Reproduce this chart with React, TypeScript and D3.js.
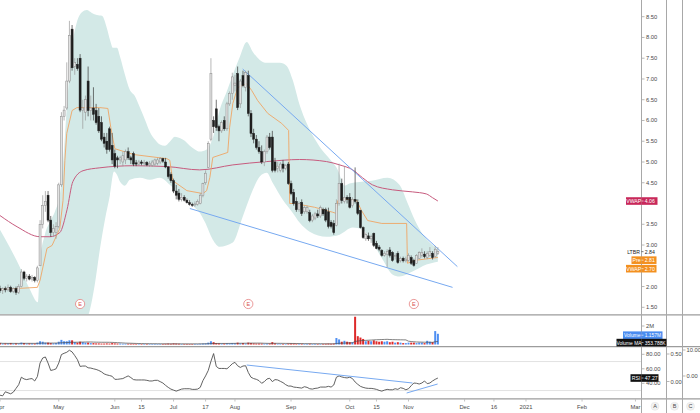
import React from "react";
import * as d3 from "d3";

// ---------------- DATA ----------------
const opens = [1.95,1.90,1.95,1.92,1.98,1.88,1.95,1.86,2.00,2.35,2.20,2.25,2.18,2.22,2.15,2.50,3.50,3.95,4.20,3.60,3.30,3.30,3.45,4.45,6.10,6.30,6.95,8.20,7.30,7.35,7.50,6.25,6.20,6.95,6.24,6.30,6.24,6.10,5.95,5.60,5.50,5.80,5.40,5.20,5.10,5.05,5.00,5.05,5.25,5.10,5.20,4.98,4.95,5.00,4.97,4.99,4.93,4.92,4.95,4.97,5.00,5.08,5.00,4.88,4.70,4.55,4.30,4.25,4.10,4.15,4.08,4.02,3.98,3.97,3.98,4.00,4.20,4.50,4.87,5.55,6.00,6.28,5.85,5.75,6.00,5.80,6.40,6.65,6.85,7.13,6.40,7.08,6.80,7.08,6.17,5.69,5.55,5.35,5.25,5.00,5.25,5.60,5.60,5.00,4.85,4.80,4.95,4.85,4.95,4.48,4.27,4.05,3.85,4.03,3.80,3.80,3.78,3.60,3.65,3.75,3.70,3.85,3.85,3.80,3.55,3.52,3.47,4.00,4.48,4.05,4.15,4.15,3.95,4.10,4.03,3.83,3.42,3.15,3.22,3.15,3.28,3.04,2.95,2.87,2.75,2.78,2.88,2.82,2.72,2.80,2.62,2.68,2.62,2.63,2.70,2.63,2.56,2.68,2.75,2.78,2.70,2.75,2.80,2.72,2.80];
const highs = [2.02,1.98,2.00,2.05,2.02,1.98,2.00,2.06,2.42,2.38,2.30,2.30,2.28,2.25,2.50,3.60,4.20,4.30,4.30,3.70,3.50,3.55,4.50,6.20,6.35,7.40,8.40,8.30,7.50,7.50,7.60,6.50,6.60,7.30,6.60,6.80,6.40,6.30,6.10,5.70,5.70,5.85,5.70,5.30,5.15,5.15,5.25,5.30,5.35,5.15,5.25,5.05,5.05,5.05,5.05,5.02,5.02,5.05,5.08,5.10,5.12,5.10,5.10,4.90,4.75,4.60,4.45,4.35,4.25,4.20,4.12,4.08,4.02,4.05,4.10,4.25,4.50,4.80,5.50,7.50,6.10,6.50,5.90,6.00,6.10,6.45,6.70,7.15,7.10,7.30,7.00,7.20,7.20,7.20,6.25,5.80,5.65,5.50,5.40,5.30,5.65,5.70,5.75,5.10,5.00,5.00,5.05,4.95,5.00,4.55,4.35,4.15,4.05,4.10,3.95,3.95,3.85,3.75,3.80,3.85,3.95,3.90,3.90,3.90,3.60,3.60,4.10,4.96,4.60,4.90,4.20,4.25,4.15,4.87,4.10,3.85,3.45,3.30,3.30,3.25,3.30,3.10,3.00,2.90,2.85,2.90,2.95,2.85,2.80,2.85,2.72,2.72,2.72,2.80,2.75,2.67,2.78,2.85,2.92,2.85,2.85,2.95,2.85,2.98,2.95];
const lows = [1.85,1.82,1.86,1.88,1.85,1.84,1.80,1.82,1.98,2.15,2.12,2.15,2.12,2.10,2.10,2.50,3.40,3.80,3.55,3.20,3.20,3.15,3.40,4.40,6.00,6.25,6.90,7.20,7.10,7.20,6.20,5.80,6.00,6.10,6.00,6.00,5.90,5.70,5.50,5.35,5.20,5.25,4.95,4.85,4.85,4.95,4.90,4.95,5.05,4.95,4.90,4.90,4.92,4.92,4.90,4.90,4.88,4.88,4.90,4.92,4.95,4.98,4.85,4.60,4.50,4.25,4.10,4.05,4.05,4.05,4.00,3.95,3.92,3.92,3.95,3.98,4.15,4.45,4.85,5.50,5.70,5.75,5.50,5.70,5.75,5.75,6.35,6.50,6.70,6.25,6.30,6.80,6.70,6.10,5.60,5.45,5.30,5.20,4.95,4.90,5.20,5.30,4.75,4.75,4.75,4.75,4.75,4.80,4.45,4.20,3.95,3.80,3.80,3.70,3.75,3.75,3.55,3.55,3.60,3.65,3.65,3.70,3.55,3.40,3.40,3.25,3.45,3.95,4.00,4.00,4.00,3.88,3.90,4.00,3.72,3.40,3.15,3.10,3.10,3.05,2.95,2.90,2.85,2.72,2.72,2.46,2.70,2.60,2.65,2.55,2.58,2.58,2.58,2.60,2.52,2.48,2.55,2.66,2.70,2.68,2.66,2.72,2.65,2.70,2.76];
const closes = [1.90,1.95,1.92,1.98,1.88,1.95,1.86,2.00,2.35,2.20,2.25,2.18,2.22,2.15,2.45,3.50,3.95,4.05,3.60,3.30,3.40,3.45,4.45,6.10,6.25,6.95,8.05,7.27,7.40,7.25,6.25,6.30,6.50,6.24,6.30,6.15,5.95,5.75,5.55,5.45,5.30,5.30,5.05,4.90,5.05,5.10,5.15,5.25,5.10,5.05,4.95,4.95,5.00,4.97,4.99,4.93,4.96,5.00,5.05,5.05,5.08,5.02,4.88,4.65,4.55,4.30,4.20,4.10,4.15,4.08,4.02,3.98,3.97,3.99,4.05,4.20,4.48,4.73,5.45,7.13,5.85,5.83,5.75,5.95,5.80,6.40,6.65,7.05,6.90,6.31,6.95,6.84,7.15,6.17,5.69,5.55,5.35,5.25,5.00,5.25,5.60,5.35,4.80,4.80,4.90,4.95,4.85,4.92,4.48,4.24,4.00,3.85,4.00,3.76,3.90,3.90,3.59,3.70,3.75,3.70,3.90,3.75,3.60,3.45,3.45,3.30,4.00,4.48,4.07,4.15,4.10,3.91,4.10,4.05,3.76,3.42,3.18,3.25,3.15,3.20,2.99,2.92,2.90,2.75,2.80,2.85,2.75,2.63,2.75,2.58,2.68,2.62,2.66,2.75,2.56,2.51,2.75,2.82,2.82,2.72,2.80,2.84,2.70,2.90,2.84];
// volume in millions of shares
const volumes = [0.15,0.1,0.12,0.1,0.15,0.1,0.12,0.1,0.2,0.15,0.1,0.12,0.1,0.1,0.2,0.35,0.3,0.2,0.2,0.15,0.12,0.15,0.3,0.5,0.35,0.35,0.45,0.45,0.25,0.2,0.3,0.25,0.2,0.2,0.15,0.15,0.12,0.12,0.1,0.1,0.12,0.1,0.15,0.12,0.1,0.1,0.08,0.08,0.08,0.08,0.08,0.06,0.06,0.06,0.06,0.06,0.06,0.06,0.06,0.06,0.06,0.06,0.08,0.1,0.08,0.12,0.1,0.08,0.06,0.06,0.06,0.06,0.06,0.06,0.06,0.08,0.1,0.12,0.2,0.35,0.25,0.15,0.12,0.1,0.1,0.12,0.12,0.15,0.12,0.2,0.12,0.15,0.1,0.2,0.15,0.12,0.1,0.1,0.1,0.08,0.08,0.1,0.25,0.12,0.08,0.08,0.06,0.06,0.1,0.1,0.1,0.08,0.06,0.08,0.06,0.06,0.08,0.06,0.06,0.06,0.06,0.06,0.08,0.1,0.08,0.1,0.7,0.55,0.3,0.4,0.3,0.25,0.25,3.0,0.9,0.75,0.6,0.35,0.4,0.35,0.45,0.35,0.3,0.35,0.3,0.35,0.25,0.3,0.2,0.25,0.2,0.15,0.15,0.2,0.2,0.2,0.15,0.2,0.2,0.15,0.4,0.3,0.25,1.45,1.157];
const rsiValues = [23.6,22.7,28.3,26.9,25.5,27.8,33.0,38.1,48.4,46.0,45.1,46.0,46.5,43.2,49.3,67.9,74.9,76.3,67.9,57.7,58.6,60.0,67.9,79.6,81.4,82.8,85.6,83.3,78.2,72.6,63.3,63.8,63.8,61.4,61.0,60.0,59.1,57.7,55.8,53.0,51.6,50.7,49.7,45.5,45.5,46.0,46.5,48.4,50.2,47.9,45.1,44.6,44.6,44.6,44.6,44.1,43.2,43.2,44.1,44.1,42.3,40.4,37.2,34.4,32.0,30.6,29.2,30.6,32.0,32.5,32.5,32.5,31.6,31.6,32.0,34.4,43.7,50.2,57.7,70.3,81.0,63.3,60.5,60.5,60.5,60.0,63.3,67.0,68.9,64.2,61.9,63.8,64.2,54.9,48.4,46.5,45.5,43.7,40.0,42.3,46.0,46.9,42.3,45.1,44.6,42.7,40.9,38.1,36.2,36.2,34.8,34.4,33.9,33.4,35.3,34.4,32.5,32.0,33.0,33.4,34.8,34.8,34.8,35.8,34.8,37.6,48.4,50.2,48.8,47.9,47.4,48.4,46.5,41.8,38.6,35.8,34.4,33.4,33.0,33.0,32.5,31.6,30.2,29.2,30.6,31.6,31.1,31.1,32.5,31.6,33.9,33.0,31.1,32.5,36.7,40.4,40.0,39.0,40.4,43.2,39.5,40.4,43.2,45.5,47.27];

// envelope (shaded channel) read at bar positions
const upperBandIdx = [0,3.7,7.5,11.2,14.2,15,16.8,18.7,20.6,22.4,23.6,25.1,26.9,28.8,30.7,32.5,34.4,36.3,38.2,40,41.2,42.3,43.8,44.9,46.8,48.6,50.5,52.4,54.3,56.1,58,59.9,61.7,63.6,65.5,67.3,69.2,71.1,73,74.8,77.4,79.7,82.3,84.9,87.2,89.8,92.4,94.7,97.3,99.9,104.8,107.4,109.6,112.2,116,119.7,122.7,126.5,129.1,130.9,134.7,139.2,145.2,149.6,152.6,155.3,159,162.7,164];
const upperBandVal = [3.37,2.94,2.46,1.93,1.62,2.60,3.25,3.56,3.81,4.21,4.94,6.38,7.70,8.37,8.61,8.66,8.59,8.54,8.52,8.23,7.94,7.75,7.75,7.55,7.10,6.74,6.59,6.31,6.02,5.73,5.54,5.42,5.39,5.49,5.61,5.58,5.51,5.39,5.30,5.25,5.30,5.58,6.26,6.69,7.10,7.53,7.89,7.65,7.46,7.39,7.39,7.31,6.98,6.38,5.78,5.37,5.13,4.81,4.43,4.48,4.52,4.55,4.62,4.45,4.02,3.61,3.20,2.96,2.89];
const lowerBandIdx = [0,15,31.8,33.7,35.5,37.4,39.3,41.2,42.7,43.8,44.9,46.8,48.6,52.4,56.1,59.9,63.6,67.3,71.1,73,74.8,76.7,79.7,82.3,87.2,90.9,94.7,97.3,99.9,102.1,105.9,109.6,112.2,116,122.3,127.2,132.1,135.8,139.5,143.3,147,149.6,154.5,159.7,164];
const lowerBandVal = [0.97,0.97,1.16,1.45,2.05,2.89,3.61,4.21,4.77,4.69,4.53,4.43,4.57,4.62,4.57,4.62,4.45,4.21,4.05,3.90,3.78,3.56,3.13,2.96,3.06,3.68,4.33,4.65,4.74,4.50,4.09,3.78,3.54,3.32,3.20,3.25,3.42,3.37,3.06,2.65,2.29,2.24,2.36,2.53,2.60];

// VWAP (crimson) and anchored VWAP (orange)
const vwapIdx = [0,6.4,15,18.7,22.4,25.1,27.3,31.1,37.4,49.8,62.5,74.8,87.2,99.9,112.2,122.3,127.2,132.1,135.8,139.5,147,154.5,159.7,162,164];
const vwapVal = [3.71,3.44,3.20,3.20,3.30,3.85,4.53,4.79,4.86,4.91,4.89,4.81,4.93,5.01,5.06,5.01,4.93,4.81,4.62,4.45,4.33,4.28,4.23,4.14,4.06];
const anchoredIdx = [0,14,15,17.6,19.5,22.4,23.6,24.3,25,27,28.8,37.4,40.4,41.5,43,50,62.5,63.6,64.7,70,76,77.4,78.6,79.7,85.3,86,87.2,89,92.4,94.3,96.5,100.3,105.5,108.1,108.5,110.4,117.8,124.6,126,126.5,128,133.6,135.4,137.7,143,152.3,152.6,155.3,164];
const anchoredVal = [1.93,1.98,2.15,2.92,2.99,3.40,4.07,5.04,5.69,6.24,6.31,6.31,6.29,5.83,5.32,5.18,5.08,5.04,4.55,4.31,4.24,4.31,4.63,5.11,5.23,5.83,6.41,6.79,6.89,6.72,6.48,6.17,5.93,5.76,4.00,4.00,3.91,3.79,3.76,4.07,4.12,4.07,3.83,3.59,3.52,3.52,2.56,2.63,2.70];

// drawn trend lines
const priceTrendUpperIdx = [90.9, 171.3];
const priceTrendUpperVal = [7.24, 2.48];
const priceTrendLowerIdx = [71.1, 169.5];
const priceTrendLowerVal = [3.88, 1.98];
const rsiTrendUpperIdx = [92.4, 154.5];
const rsiTrendUpperVal = [65.2, 40.4];
const rsiTrendLowerIdx = [152.3, 163.9];
const rsiTrendLowerVal = [26.6, 39.0];

const priceTicks = [8.5, 8, 7.5, 7, 6.5, 6, 5.5, 5, 4.5, 4, 3.5, 3, 2.5, 2, 1.5];
const rsiTicks = [80, 60, 40];
const bScaleTicks = [0.5, 0];
const cScaleTicks = [10, 0];
const timeTickDates = ["2020-04-01","2020-05-01","2020-06-01","2020-06-15","2020-07-01","2020-07-17","2020-08-03","2020-09-01","2020-10-01","2020-10-15","2020-11-02","2020-12-01","2020-12-16","2021-01-01","2021-02-01","2021-03-01"];
const timeTickLabels = ["Apr","May","Jun","15","Jul","17","Aug","Sep","Oct","15","Nov","Dec","16","2021","Feb","Mar"];
const earningsDates = ["2020-05-13", "2020-08-10", "2020-11-04"];

const lastClose = 2.84;
const preValue = 2.81;
const anchoredLast = 2.7;
const vwapLast = 4.06;
const volumeLastLabel = "1.157M";
const volumeMALabel = "353.788K";
const rsiLast = 47.27;

// ---------------- LAYOUT ----------------
const W = 700;
const H = 413;
const AX = 641.5;
const FONT = "'Liberation Sans', Arial, sans-serif";
const TXT = "#4a4a4a";

const START = Date.UTC(2020, 3, 1);
function dateIndex(s: string): number {
  const end = Date.parse(s + "T00:00:00Z");
  let n = 0;
  for (let t = START; t < end; t += 86400000) {
    const wd = new Date(t).getUTCDay();
    if (wd !== 0 && wd !== 6) n++;
  }
  return n;
}

const x = d3.scaleLinear().domain([0, 240]).range([0, 640.8]);
const y = d3.scaleLinear().domain([1.5, 8.5]).range([307.3, 16.7]);
const yVol = d3.scaleLinear().domain([0, 2]).range([344.5, 326]);
const yRsi = d3.scaleLinear().domain([40, 80]).range([383.3, 354.3]);
const yB = d3.scaleLinear().domain([0, 0.5]).range([381.5, 354]);
const yC = d3.scaleLinear().domain([0, 10]).range([376, 350]);

function Tag({ yc, name, value, color, nameW, valW, fs = 5.2, textColor = "#fff" }: any) {
  const h = 7.6;
  return (
    <g>
      <rect x={AX - nameW} y={yc - h / 2} width={nameW} height={h} fill={color} />
      <rect x={AX} y={yc - h / 2} width={valW} height={h} fill={color} />
      <text x={AX - nameW / 2} y={yc + 1.9} fontSize={fs} fill={textColor} textAnchor="middle" fontFamily={FONT}>{name}</text>
      <line x1={AX} x2={AX + 2} y1={yc} y2={yc} stroke={textColor} strokeWidth={0.6} />
      <text x={AX + 3.2} y={yc + 1.9} fontSize={fs} fill={textColor} fontFamily={FONT}>{value}</text>
    </g>
  );
}

export default function App() {
  const n = closes.length;
  const idx = d3.range(n);
  const barW = 2;

  const curve = d3.curveMonotoneX;
  const upperLine = d3.line<number>().x((_, k) => x(upperBandIdx[k])).y((v) => y(v)).curve(curve);
  const lowerLineRev = d3.line<number>().x((_, k) => x(lowerBandIdx[lowerBandIdx.length - 1 - k])).y((v) => y(v)).curve(curve);
  const bandPath = (upperLine(upperBandVal) || "") + (lowerLineRev([...lowerBandVal].reverse()) || "").replace(/^M/, "L") + "Z";

  const lineIdx = (ix: number[], vals: number[], sy: any, c: any = d3.curveLinear) =>
    d3.line<number>().x((_, k) => x(ix[k])).y((v) => sy(v)).curve(c)(vals) || "";

  const volMA = idx.map((i) => d3.mean(volumes.slice(Math.max(0, i - 19), i + 1)) as number);
  const rsiLine = d3.line<number>().x((_, i) => x(i)).y((v) => yRsi(v))(rsiValues) || "";
  const volMALine = d3.line<number>().x((_, i) => x(i)).y((v) => yVol(v))(volMA) || "";

  const ltbrY = y(lastClose);
  const tagYs = [y(vwapLast), ltbrY, ltbrY + 8.5, ltbrY + 17];
  const visiblePriceTicks = priceTicks.filter((p) => tagYs.every((ty) => Math.abs(ty - y(p)) > 5.5));

  return (
    <svg width={W} height={H} style={{ position: "absolute", left: 0, top: 0, background: "#fff" }} fontFamily={FONT}>
      <defs>
        <clipPath id="mainClip"><rect x={0} y={0} width={AX} height={314} /></clipPath>
        <clipPath id="volClip"><rect x={0} y={315.5} width={AX} height={30} /></clipPath>
        <clipPath id="rsiClip"><rect x={0} y={347.5} width={AX} height={50.5} /></clipPath>
      </defs>
      <rect x={0} y={0} width={W} height={H} fill="#fff" />

      {/* MAIN PANE */}
      <g clipPath="url(#mainClip)">
        <path d={bandPath} fill="#d3e9e7" />
        <path d={lineIdx(vwapIdx, vwapVal, y, d3.curveMonotoneX)} fill="none" stroke="#c75b7e" strokeWidth={1} />
        <path d={lineIdx(anchoredIdx, anchoredVal, y)} fill="none" stroke="#efa564" strokeWidth={0.9} />
        <path d={lineIdx(priceTrendUpperIdx, priceTrendUpperVal, y)} fill="none" stroke="#77a9f0" strokeWidth={1} />
        <path d={lineIdx(priceTrendLowerIdx, priceTrendLowerVal, y)} fill="none" stroke="#77a9f0" strokeWidth={1} />
        {idx.map((i) => {
          const up = closes[i] >= opens[i];
          const top = y(Math.max(opens[i], closes[i]));
          const bot = y(Math.min(opens[i], closes[i]));
          return (
            <g key={i}>
              <line x1={x(i)} x2={x(i)} y1={y(highs[i])} y2={y(lows[i])} stroke={up ? "#9a9a9a" : "#3a3a3a"} strokeWidth={0.7} />
              <rect x={x(i) - barW / 2} y={top} width={barW} height={Math.max(1, bot - top)} fill={up ? "#e2e2e2" : "#1e1e1e"} stroke={up ? "#8a8a8a" : "#1e1e1e"} strokeWidth={0.5} />
            </g>
          );
        })}
        {earningsDates.map((d) => {
          const cx = x(dateIndex(d));
          return (
            <g key={d}>
              <circle cx={cx} cy={304} r={4.6} fill="#fff" stroke="#e58080" strokeWidth={0.8} />
              <text x={cx} y={306} fontSize={5.5} fill="#d9534f" textAnchor="middle">E</text>
            </g>
          );
        })}
      </g>

      {/* VOLUME PANE */}
      <g clipPath="url(#volClip)">
        {idx.map((i) => (
          <rect key={i} x={x(i) - 1} y={yVol(volumes[i])} width={2} height={yVol(0) - yVol(volumes[i])}
            fill={closes[i] >= opens[i] ? "#4f8ff2" : "#dd2a2a"} />
        ))}
        <path d={volMALine} fill="none" stroke="#4a4a4a" strokeWidth={0.7} />
      </g>

      {/* RSI PANE */}
      <line x1={0} x2={AX} y1={yRsi(70)} y2={yRsi(70)} stroke="#e2e2e2" strokeWidth={1} />
      <line x1={0} x2={AX} y1={yRsi(30)} y2={yRsi(30)} stroke="#e2e2e2" strokeWidth={1} />
      <g clipPath="url(#rsiClip)">
        <path d={rsiLine} fill="none" stroke="#505050" strokeWidth={0.9} />
        <path d={lineIdx(rsiTrendUpperIdx, rsiTrendUpperVal, yRsi)} fill="none" stroke="#77a9f0" strokeWidth={1} />
        <path d={lineIdx(rsiTrendLowerIdx, rsiTrendLowerVal, yRsi)} fill="none" stroke="#77a9f0" strokeWidth={1} />
      </g>

      {/* separators & axis lines */}
      <line x1={0} x2={W} y1={314.8} y2={314.8} stroke="#9c9c9c" strokeWidth={1.2} />
      <line x1={0} x2={W} y1={346.6} y2={346.6} stroke="#9c9c9c" strokeWidth={1.2} />
      <line x1={0} x2={W} y1={398.8} y2={398.8} stroke="#9c9c9c" strokeWidth={1.2} />
      <line x1={AX} x2={AX} y1={0} y2={H} stroke="#a8a8a8" strokeWidth={1} />
      <line x1={666.5} x2={666.5} y1={0} y2={H} stroke="#a8a8a8" strokeWidth={1} />
      <line x1={682.5} x2={682.5} y1={0} y2={H} stroke="#a8a8a8" strokeWidth={1} />

      {/* price axis */}
      {visiblePriceTicks.map((p) => (
        <g key={p}>
          <line x1={AX + 0.5} x2={AX + 3} y1={y(p)} y2={y(p)} stroke="#888" strokeWidth={0.6} />
          <text x={AX + 4.5} y={y(p) + 2} fontSize={5.8} fill={TXT}>{p.toFixed(2)}</text>
        </g>
      ))}
      {/* volume axis */}
      <line x1={AX + 0.5} x2={AX + 3} y1={yVol(2)} y2={yVol(2)} stroke="#888" strokeWidth={0.6} />
      <text x={AX + 4.5} y={yVol(2) + 2} fontSize={5.8} fill={TXT}>2M</text>
      {/* RSI axis */}
      {rsiTicks.map((r) => (
        <g key={r}>
          <line x1={AX + 0.5} x2={AX + 3} y1={yRsi(r)} y2={yRsi(r)} stroke="#888" strokeWidth={0.6} />
          <text x={AX + 4.5} y={yRsi(r) + 2} fontSize={5.8} fill={TXT}>{r.toFixed(2)}</text>
        </g>
      ))}
      {bScaleTicks.map((b) => (
        <g key={"b" + b}>
          <line x1={667} x2={669.5} y1={yB(b)} y2={yB(b)} stroke="#888" strokeWidth={0.6} />
          <text x={670.5} y={yB(b) + 2} fontSize={5.8} fill={TXT}>{b.toFixed(2)}</text>
        </g>
      ))}
      {cScaleTicks.map((c) => (
        <g key={"c" + c}>
          <line x1={683} x2={685.5} y1={yC(c)} y2={yC(c)} stroke="#888" strokeWidth={0.6} />
          <text x={686.5} y={yC(c) + 2} fontSize={5.8} fill={TXT}>{c.toFixed(2)}</text>
        </g>
      ))}

      {/* price tags */}
      <Tag yc={y(vwapLast)} name="VWAP" value={vwapLast.toFixed(2)} color="#c8285a" nameW={15.5} valW={16} />
      <text x={AX - 1.5} y={ltbrY + 1.9} fontSize={5.2} fill="#222" textAnchor="end">LTBR</text>
      <line x1={AX} x2={AX + 2} y1={ltbrY} y2={ltbrY} stroke="#222" strokeWidth={0.6} />
      <text x={AX + 3.2} y={ltbrY + 1.9} fontSize={5.2} fill="#222">{lastClose.toFixed(2)}</text>
      <Tag yc={ltbrY + 8.5} name="Pre" value={preValue.toFixed(2)} color="#f3901f" nameW={10} valW={15} />
      <Tag yc={ltbrY + 17} name="VWAP" value={anchoredLast.toFixed(2)} color="#f3901f" nameW={15.5} valW={15} />
      <Tag yc={335.2} name="Volume" value={volumeLastLabel} color="#4a8cf0" nameW={18.5} valW={21} fs={4.9} />
      <Tag yc={342.6} name="Volume MA" value={volumeMALabel} color="#111" nameW={25} valW={25} fs={4.9} />
      <Tag yc={yRsi(rsiLast)} name="RSI" value={rsiLast.toFixed(2)} color="#111" nameW={11} valW={17} />

      {/* time axis */}
      {timeTickDates.map((d, k) => {
        const tx = x(dateIndex(d));
        return (
          <g key={d}>
            <line x1={tx} x2={tx} y1={399.5} y2={401.5} stroke="#999" strokeWidth={0.6} />
            <text x={tx} y={408.5} fontSize={5.8} fill={TXT} textAnchor="middle">{timeTickLabels[k]}</text>
          </g>
        );
      })}
      {["A", "B", "C"].map((s, k) => {
        const cx = [655, 674.5, 690.5][k];
        return (
          <g key={s}>
            <circle cx={cx} cy={406.3} r={4} fill="#f2f2f2" stroke="#e0e0e0" strokeWidth={0.5} />
            <text x={cx} y={408.3} fontSize={5.5} fill={TXT} textAnchor="middle">{s}</text>
          </g>
        );
      })}
    </svg>
  );
}
